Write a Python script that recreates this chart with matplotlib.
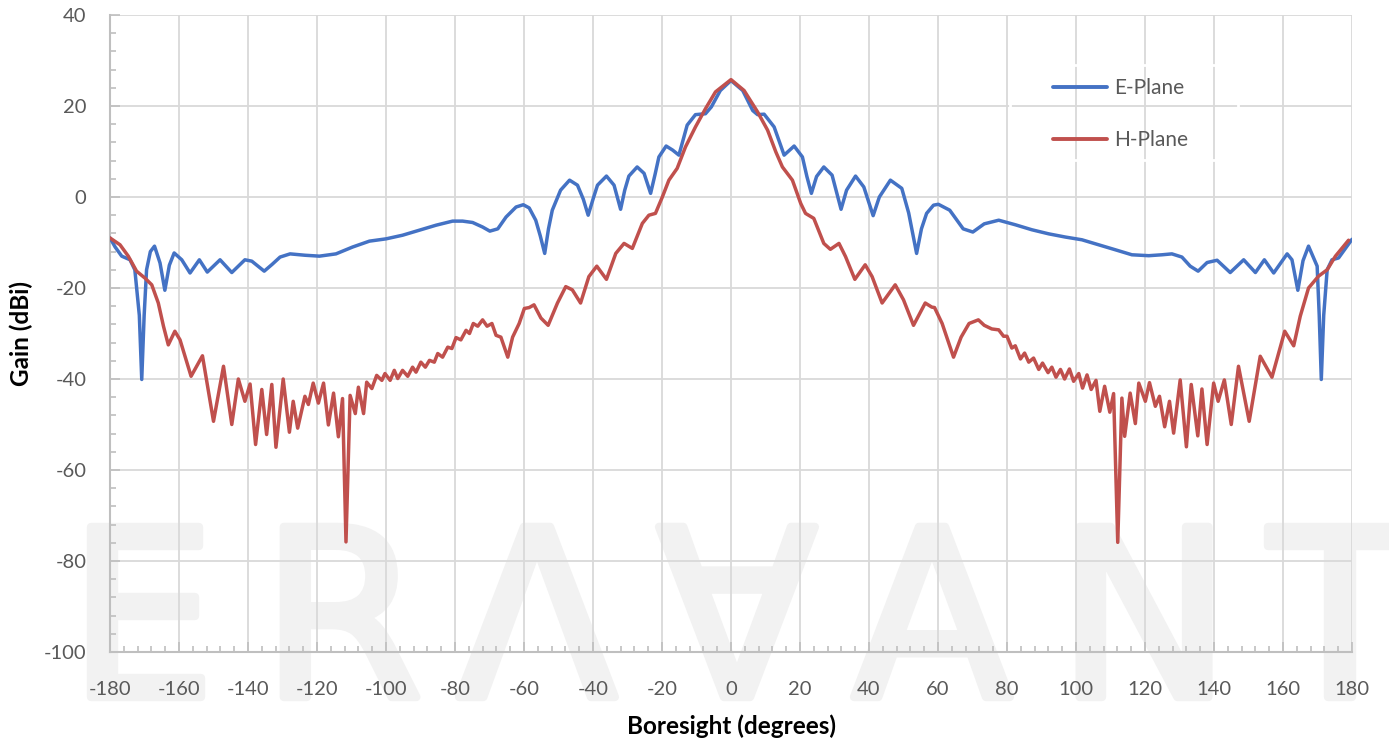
import matplotlib
matplotlib.use("Agg")
from matplotlib import pyplot as plt
from matplotlib import patheffects
from matplotlib.patches import Rectangle
from matplotlib.ticker import MultipleLocator

plt.rcParams["axes.unicode_minus"] = False

# E-plane (blue)
e_deg = [-180, -178.5, -176.6, -174.2, -172.8, -171.5, -170.8, -170.1, -169.4, -168.3,
         -167.1, -165.5, -164.1, -162.8, -161.4, -159.2, -156.8, -154.1, -151.8, -148.1,
         -144.7, -140.9, -138.9, -135.3, -133, -130.7, -127.8, -123.5, -119.3, -114.5,
         -109.7, -104.8, -100, -95.2, -90.3, -85.5, -80.7, -77.8, -74.9, -72.0,
         -69.9, -67.6, -65.2, -62.3, -60.2, -58.5, -56.6, -55.3, -54.0, -52.9,
         -51.8, -49.4, -46.8, -44.5, -42.8, -41.4, -40, -38.7, -36.1, -33.9,
         -32.0, -30.8, -29.6, -27.2, -25.2, -23.3, -22, -20.9, -18.8, -16.9,
         -15.1, -12.7, -10.3, -7.4, -5.7, -3.1, 0, 3.4, 6.3, 7.7,
         9.6, 12.5, 15.4, 18.3, 20.7, 22, 23.3, 24.8, 26.9, 29.3,
         31.9, 33.5, 36.1, 38.5, 41.2, 43, 46.2, 49.5, 51.5, 53.8,
         55.2, 56.7, 58.7, 60.1, 63.4, 67.3, 70.1, 73.4, 77.6, 82.4,
         87.2, 92.1, 96.9, 101.7, 106.6, 111.4, 116.2, 121.1, 124.9, 127.8,
         130.7, 133.1, 135.4, 138.0, 140.9, 142.3, 144.7, 148.6, 152.0, 154.6,
         157.3, 161.2, 162.6, 164.3, 165.8, 167.4, 169.9, 170.5, 171.1, 171.8,
         172.8, 174.2, 176.1, 180]
e_gain = [-9.0, -11.0, -13.0, -13.8, -16.0, -26, -40.1, -26, -16.0, -12,
          -10.8, -14.5, -20.5, -15, -12.3, -13.8, -16.7, -13.8, -16.5, -13.8,
          -16.6, -13.8, -14.1, -16.3, -14.8, -13.2, -12.5, -12.8, -13.0, -12.5,
          -11.0, -9.7, -9.2, -8.4, -7.3, -6.2, -5.3, -5.3, -5.6, -6.6,
          -7.5, -7.0, -4.4, -2.2, -1.7, -2.4, -5.1, -8.5, -12.4, -7,
          -2.9, 1.5, 3.7, 2.6, -0.5, -4.0, -0.5, 2.6, 4.6, 2.6,
          -2.7, 1.5, 4.6, 6.6, 5.2, 0.8, 5, 8.8, 11.2, 10.3,
          9.2, 15.8, 18.1, 18.3, 19.8, 23.4, 25.6, 23.4, 19.0, 18.1,
          18.2, 15.4, 9.2, 11.2, 8.8, 4.5, 0.8, 4.5, 6.6, 4.8,
          -2.7, 1.5, 4.6, 2.2, -4.1, 0, 3.7, 1.9, -3.5, -12.4,
          -7, -3.6, -1.8, -1.6, -2.9, -7.0, -7.7, -5.9, -5.1, -6.1,
          -7.2, -8.1, -8.8, -9.4, -10.5, -11.6, -12.7, -12.9, -12.7, -12.5,
          -13.2, -15.2, -16.3, -14.4, -13.9, -14.9, -16.6, -13.8, -16.6, -13.8,
          -16.7, -12.5, -13.8, -20.5, -14, -10.8, -15.2, -26, -40.1, -26,
          -16.0, -13.8, -13.4, -9.3]

# H-plane (red)
h_deg = [-180, -177.1, -174.7, -172.3, -169.9, -167.9, -166.0, -164.5, -163.1, -161.2,
         -159.7, -156.5, -153.2, -150.0, -147.1, -144.7, -142.8, -140.9, -139.4, -137.8,
         -136.0, -134.6, -133.1, -131.9, -129.8, -128.0, -126.9, -125.6, -123.5, -122.5,
         -121.1, -119.6, -118.1, -116.7, -115.2, -113.8, -112.6, -111.6, -110.4, -108.9,
         -108.0, -106.5, -105.6, -104.1, -102.7, -101.2, -100.3, -98.8, -97.6, -96.6,
         -95.2, -93.7, -92.3, -91.3, -89.9, -88.6, -87.4, -86.0, -85.0, -83.6,
         -82.1, -80.9, -79.7, -78.3, -76.8, -75.8, -74.7, -73.4, -72.0, -70.7,
         -69.3, -68.1, -66.7, -64.7, -63.3, -61.4, -59.9, -58.5, -57.1, -55.1,
         -53.0, -50.3, -47.9, -46.0, -43.6, -41.2, -38.9, -36.1, -33.4, -31.0,
         -28.6, -25.7, -23.8, -21.9, -19.9, -18.0, -15.6, -13.2, -10.3, -7.4,
         -4.5, 0, 3.8, 7.7, 10.6, 13.0, 14.9, 17.8, 20.2, 21.6,
         24.0, 26.9, 28.8, 31.3, 33.2, 35.9, 38.9, 40.9, 43.8, 47.6,
         50.0, 52.9, 56.3, 58.2, 59.0, 61.2, 64.5, 66.7, 69.0, 71.7,
         73.4, 75.6, 77.6, 79.0, 80.0, 81.4, 82.4, 83.9, 85.1, 86.3,
         87.7, 89.2, 90.3, 91.9, 93.0, 94.2, 95.5, 96.7, 98.1, 99.3,
         100.8, 101.9, 103.2, 104.4, 105.8, 106.9, 108.3, 109.8, 110.9, 112.1,
         113.3, 114.1, 115.7, 117.2, 118.2, 120.1, 121.3, 123.0, 124.2, 125.7,
         127.1, 128.3, 130.2, 132.0, 133.4, 135.3, 136.5, 138.0, 139.9, 141.2,
         143.0, 145.0, 147.1, 150.2, 153.4, 156.8, 160.5, 163.1, 165.0, 167.4,
         170.3, 172.8, 175.2, 179.0]
h_gain = [-9.0, -10.5, -13.0, -16.3, -17.8, -19.3, -23.3, -28.4, -32.5, -29.5,
          -31.4, -39.4, -34.9, -49.3, -37.2, -50.0, -40.0, -44.9, -41.1, -54.4,
          -42.3, -52.2, -41.2, -55.0, -40.0, -51.7, -44.9, -50.8, -43.8, -45.6,
          -40.9, -45.3, -40.9, -50.1, -43.1, -52.7, -44.3, -75.8, -43.6, -47.6,
          -41.8, -47.6, -40.7, -42.1, -39.2, -40.3, -38.8, -40.3, -38.1, -39.9,
          -38.1, -39.4, -37.4, -38.5, -36.3, -37.4, -35.9, -36.3, -34.4, -35.2,
          -33.0, -33.3, -30.9, -31.4, -29.3, -30.0, -27.8, -28.4, -27.0, -28.4,
          -27.8, -30.4, -30.8, -35.2, -30.8, -27.8, -24.5, -24.3, -23.7, -26.6,
          -28.2, -23.3, -19.7, -20.4, -23.3, -17.5, -15.2, -18.1, -12.4, -10.2,
          -11.3, -5.8, -4.0, -3.6, 0.0, 3.7, 6.3, 11.0, 15.4, 19.4,
          23.1, 25.8, 23.4, 18.7, 14.7, 9.9, 6.6, 3.7, -1.4, -3.6,
          -4.7, -10.2, -11.5, -10.2, -13.1, -18.1, -14.9, -17.5, -23.3, -19.3,
          -22.6, -28.2, -23.3, -24.2, -24.3, -27.8, -35.2, -30.8, -27.8, -27.0,
          -28.2, -29.0, -29.2, -30.6, -30.6, -33.2, -32.7, -35.6, -34.3, -36.3,
          -35.4, -37.9, -36.5, -38.6, -37.4, -39.6, -37.9, -40.0, -37.8, -40.5,
          -38.8, -42.0, -39.1, -42.3, -40.3, -47.1, -41.6, -47.3, -43.2, -75.9,
          -44.2, -52.6, -43.1, -49.8, -40.9, -44.9, -40.8, -46.0, -43.8, -50.5,
          -44.9, -51.9, -40.2, -54.9, -41.2, -52.5, -42.2, -54.4, -40.9, -44.9,
          -40.2, -50.0, -37.2, -49.3, -35.0, -39.6, -29.5, -32.7, -26.2, -20.0,
          -17.4, -16.0, -13.0, -9.5]

watermark = ["E", "R", "Λ", "∀", "A", "N", "T"]
watermark_x = [142, 342, 537, 737, 932, 1144, 1340]

W, H = 1389, 742
fig = plt.figure(figsize=(W / 100, H / 100), dpi=100)
ax = fig.add_axes([110 / W, 90 / H, 1242 / W, 637 / H])
ax.set_facecolor("none")

# big grey logo behind the plot
thick = [patheffects.withStroke(linewidth=6, foreground="#f2f2f2")]
for ch, px in zip(watermark, watermark_x):
    fig.text(px / W, 1 - 697 / H, ch, fontsize=168, color="#f2f2f2",
             ha="center", va="baseline", family="DejaVu Sans", zorder=-1,
             path_effects=thick)

lw = 2.5
ax.plot(e_deg, e_gain, color="#4472C4", lw=lw, label="E-Plane",
        solid_joinstyle="round", solid_capstyle="round", zorder=3)
ax.plot(h_deg, h_gain, color="#C0504D", lw=lw, label="H-Plane",
        solid_joinstyle="round", solid_capstyle="round", zorder=3)

ax.set_xlim(-180, 180)
ax.set_ylim(-100, 40)
ax.xaxis.set_major_locator(MultipleLocator(20))
ax.xaxis.set_minor_locator(MultipleLocator(4))
ax.yaxis.set_major_locator(MultipleLocator(20))
ax.yaxis.set_minor_locator(MultipleLocator(4))
ax.grid(True, which="major", color="#d9d9d9", lw=1.3, zorder=1)
ax.set_axisbelow(True)

for s in ["top", "right"]:
    ax.spines[s].set_visible(False)
for s in ["left", "bottom"]:
    ax.spines[s].set_color("#bfbfbf")
    ax.spines[s].set_linewidth(1.5)

ax.tick_params(which="major", direction="in", length=7, width=1.2, color="#bfbfbf",
               labelsize=14.5, labelcolor="#595959")
ax.tick_params(which="minor", direction="in", length=4, width=1.2, color="#bfbfbf")
ax.tick_params(axis="x", which="major", pad=21)
ax.tick_params(axis="y", which="major", pad=17)
for lab in ax.get_xticklabels() + ax.get_yticklabels():
    lab.set_family("Lato")

ax.set_xlabel("Boresight (degrees)", fontsize=17.5, fontweight="bold", family="Lato",
              labelpad=12)
ax.set_ylabel("Gain (dBi)", fontsize=17.5, fontweight="bold", family="Lato", labelpad=8)

leg = ax.legend(loc="upper left", bbox_to_anchor=(1053 / W, 1 - 78 / H),
                bbox_transform=fig.transFigure, frameon=False,
                handlelength=2.6, handletextpad=0.35, labelspacing=1.55,
                borderpad=0, borderaxespad=0, prop={"family": "Lato", "size": 15})
for t in leg.get_texts():
    t.set_color("#595959")
for l in leg.get_lines():
    l.set_linewidth(2.8)

fig.patches.append(Rectangle((1010 / W, 1 - 160 / H), 228 / W, 95 / H,
                             transform=fig.transFigure, fill=False,
                             edgecolor="white", lw=2, zorder=2))

fig.savefig("out.png", dpi=100)
